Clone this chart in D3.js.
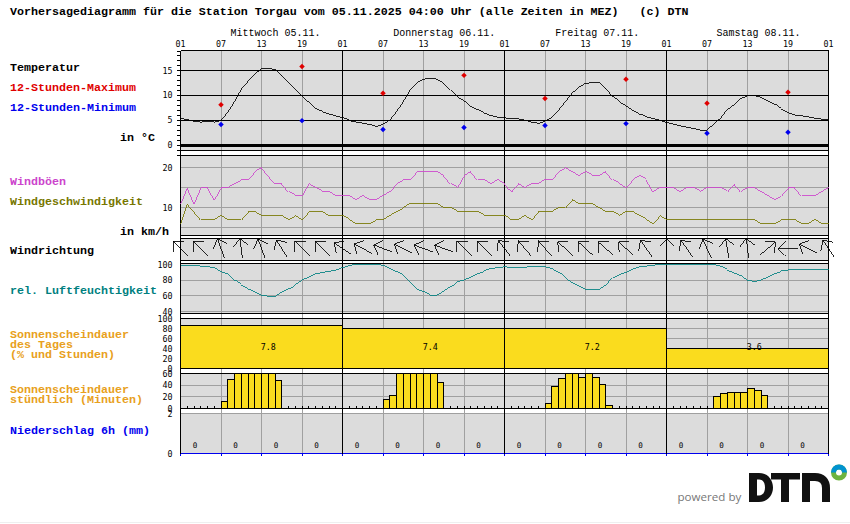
<!DOCTYPE html>
<html>
<head>
<meta charset="utf-8">
<title>Vorhersagediagramm Torgau</title>
<script src="https://cdn.jsdelivr.net/npm/d3@7"></script>
<style>
    html, body { margin: 0; padding: 0; background: #fff; }
    svg { display: block; }
    text { font-family: "Liberation Mono", monospace; }
    .big { font-size: 11.67px; font-weight: bold; }
    .mid { font-size: 10px; }
    .tiny { font-size: 8.33px; font-family: "DejaVu Sans Mono", monospace; }
    .zero { font-size: 7.6px; font-family: "DejaVu Sans Mono", monospace; }
    .crisp { shape-rendering: crispEdges; }
</style>
</head>
<body>
<script>
// hourly values from 01:00 Wed to 01:00 Sat+1 (97 points)
const temperature = [5.3,5.1,4.8,4.6,4.7,4.6,4.9,6.6,8.7,11.2,12.8,14.3,15.3,15.4,15.2,14,12.6,11.2,9.9,8.6,7.3,6.7,6.25,5.85,
    5.5,4.9,4.6,4.4,4.1,3.7,4.2,5,6.7,8.7,11,12.5,13.25,13.4,13.25,12.4,11,9.7,8.9,7.8,7.1,6.4,5.9,5.6,
    5.45,5.3,5.25,5,4.6,4.3,4.8,5.5,7,8.7,10.4,11.6,12.4,12.6,12.6,11.4,9.7,8.7,7.9,7,6.2,5.65,5.3,5,
    4.5,4.2,3.85,3.6,3.3,3,3,4.2,5.4,7.1,8.1,9.3,9.9,9.95,9.6,8.9,8.2,7.2,6.5,6.05,5.85,5.65,5.4,5.2,5.2];
const gusts = [11,15,11,15,15,12,15,15,16,17,17,19,20,18,16,16,14,13,13,16,15,14,14,13,
    13,13,12,13,12,12,13,14,16,17,17,19,19,19,19,18,16,15,18,19,17,17,16,17,
    16,14,16,15,16,16,17,17,19,20,19,18,19,18,18,19,17,16,15,17,18,17,14,15,
    15,15,14,15,15,14,15,15,15,14,16,14,15,15,14,13,12,13,15,15,13,13,13,14,15];
const windSpeed = [6,11,9,7,7,7,8,7,7,7,9,9,8,8,8,8,7,8,7,9,9,9,8,8,
    8,7,6,6,6,7,7,8,9,10,11,11,11,11,11,10,10,9,9,9,9,8,8,8,
    8,7,7,8,7,9,9,9,10,10,12,11,11,11,10,9,9,8,9,9,8,7,6,8,
    7,7,7,7,7,7,7,7,7,7,7,7,7,7,6,6,6,7,7,7,6,6,7,6,6];
const humidity = [99,99,99,98,97,96,91,88,80,74,69,65,61,59,59,65,69,74,80,84,88,90,91,93,
    96,99,100,100,100,100,99,95,91,86,78,69,65,61,61,66,72,78,80,84,88,92,95,96,
    97,96,96,96,98,98,97,95,90,83,77,73,68,68,68,74,83,87,90,94,97,98,99,100,
    100,100,100,100,100,100,100,100,98,93,89,86,80,78,80,84,88,92,93,94,94,94,94,94,94];

const maxHours = [6,18,30,42,54,66,78,90];
const tempMax = [8.1,15.8,10.4,14,9.35,13.2,8.4,10.6];
const tempMin = [4.1,4.9,3.1,3.5,3.9,4.3,2.35,2.55];

// arrows every 3 hours, compass bearing the arrow points to
const arrowHours = d3.range(0, 97, 3);
const arrowBearing = [315,315,340,353,340,328,315,315,303,298,291,296,290,290,315,315,322,
    319,319,312,312,311,312,325,358,325,336,351,353,50,270,296,326];

const dayLabels = ["Mittwoch 05.11.", "Donnerstag 06.11.", "Freitag 07.11.", "Samstag 08.11."];
const dayLabelHours = [7.4, 31.5, 55.5, 79.4];
const hourLabels = ["01","07","13","19"];
const sunPercent = [86, 80, 80, 40];
const sunHours = ["7.8", "7.4", "7.2", "3.6"];

// hourly sun minutes: first hour of each run, then minutes
const sunRunStart = [6, 30, 54, 79];
const sunRuns = [
    [12,50,60,60,60,60,60,60,48],
    [15,22,60,60,60,60,60,60,45],
    [9,38,51,60,60,53,60,53,41,5],
    [21,26,27,27,27,34,31,22]
];
const precip = d3.range(16).map(() => 0);

const leftLabels = [
    ["Temperatur", 10, 71, "#000"],
    ["12-Stunden-Maximum", 10, 91, "#e00000"],
    ["12-Stunden-Minimum", 10, 111, "#0000ee"],
    ["in °C", 120, 141, "#000"],
    ["Windböen", 10, 185, "#cc44cc"],
    ["Windgeschwindigkeit", 10, 205, "#777700"],
    ["in km/h", 120, 235, "#000"],
    ["Windrichtung", 10, 254, "#000"],
    ["rel. Luftfeuchtigkeit", 10, 294, "#007f7f"],
    ["Sonnenscheindauer", 10, 338, "#e8a020"],
    ["des Tages", 10, 348, "#e8a020"],
    ["(% und Stunden)", 10, 358, "#e8a020"],
    ["Sonnenscheindauer", 10, 393, "#e8a020"],
    ["stündlich (Minuten)", 10, 403, "#e8a020"],
    ["Niederschlag 6h (mm)", 10, 434, "#0000ee"]
];

const width = 850;
const height = 524;
const grey = "#a0a0a0";
const panelFill = "#dcdcdc";
const sunFill = "#fadc1e";

const svg = d3.select("body").append("svg").attr("width", width).attr("height", height);

const x = d3.scaleLinear().domain([0, 96]).range([180.5, 828.5]);
const yTemp = d3.scaleLinear().domain([0, 19]).range([145, 50.5]);
const yWind = d3.scaleLinear().domain([5, 20]).range([227.5, 167.5]);
const yHum = d3.scaleLinear().domain([40, 100]).range([311.5, 264.5]);
const ySun = d3.scaleLinear().domain([0, 100]).range([368.5, 318.5]);
const yMin = d3.scaleLinear().domain([0, 60]).range([408.5, 373.5]);
const yPrec = d3.scaleLinear().domain([0, 2]).range([453.5, 413.5]);

const g = svg.append("g");

// panel backgrounds
g.append("rect").attr("x", x(0)).attr("y", 50.5).attr("width", x(96) - x(0)).attr("height", 403)
    .attr("fill", panelFill).attr("class", "crisp");
[[150.5, 155.5], [235.5, 238.5], [260.5, 263.5], [313.5, 318.5], [368.5, 373.5], [408.5, 413.5]].forEach(b => {
    g.append("rect").attr("x", x(0)).attr("y", b[0]).attr("width", x(96) - x(0)).attr("height", b[1] - b[0])
        .attr("fill", "#fff").attr("class", "crisp");
});

function hLine(y, color, w) {
    g.append("line").attr("class", "crisp")
        .attr("x1", x(0)).attr("x2", x(96)).attr("y1", y).attr("y2", y)
        .attr("stroke", color).attr("stroke-width", w || 1);
}

// grey hour lines
d3.range(0, 97, 6).filter(h => h % 24 !== 0).forEach(h => {
    g.append("line").attr("class", "crisp")
        .attr("x1", x(h)).attr("x2", x(h)).attr("y1", 50.5).attr("y2", 453.5)
        .attr("stroke", grey).attr("stroke-width", 1);
});

[15, 10, 5].forEach(v => hLine(yTemp(v), "#000"));
[20, 15, 10, 5].forEach(v => hLine(yWind(v), grey));
[80, 60, 40].forEach(v => hLine(yHum(v), grey));
[80, 60, 40, 20].forEach(v => hLine(ySun(v), grey));
[40, 20].forEach(v => hLine(yMin(v), grey));
hLine(yPrec(2), grey);

// daily sunshine bars
g.selectAll(".sun-day").data(sunPercent).enter().append("rect")
    .attr("class", "sun-day crisp")
    .attr("x", (d, i) => x(i * 24))
    .attr("width", x(24) - x(0))
    .attr("y", d => ySun(d))
    .attr("height", d => ySun(0) - ySun(d))
    .attr("fill", sunFill).attr("stroke", "#000");

g.selectAll(".sun-txt").data(sunHours).enter().append("text")
    .attr("class", "tiny")
    .attr("x", (d, i) => x(i * 24 + 13))
    .attr("y", 350)
    .attr("text-anchor", "middle")
    .text(d => d);

// hourly sunshine bars
sunRuns.forEach((run, r) => {
    g.selectAll(".sun-h" + r).data(run).enter().append("rect")
        .attr("class", "sun-h" + r + " crisp")
        .attr("x", (d, i) => x(sunRunStart[r] + i))
        .attr("width", x(1) - x(0))
        .attr("y", d => yMin(d))
        .attr("height", d => yMin(0) - yMin(d))
        .attr("fill", sunFill).attr("stroke", "#000");
});

// hour ticks on the sunshine baseline
g.selectAll(".h-tick").data(d3.range(0, 97)).enter().append("line")
    .attr("class", "h-tick crisp")
    .attr("x1", d => x(d)).attr("x2", d => x(d))
    .attr("y1", yMin(0) - 3).attr("y2", yMin(0))
    .attr("stroke", "#000");

// black horizontal frame lines
[50.5, 150.5, 155.5, 235.5, 238.5, 260.5, 263.5, 313.5, 318.5, 368.5, 373.5, 408.5].forEach(y => hLine(y, "#000"));
hLine(yTemp(0), "#000", 3);
hLine(yPrec(0), "#0000ee");

// blue ticks on the precipitation baseline
g.selectAll(".p-tick").data(d3.range(0, 97, 6)).enter().append("line")
    .attr("class", "p-tick crisp")
    .attr("x1", d => x(d)).attr("x2", d => x(d))
    .attr("y1", yPrec(0) - 1).attr("y2", yPrec(0) + 2)
    .attr("stroke", "#0000ee");

// black day lines
d3.range(0, 97, 24).forEach(h => {
    g.append("line").attr("class", "crisp")
        .attr("x1", x(h)).attr("x2", x(h)).attr("y1", 50.5).attr("y2", 453.5)
        .attr("stroke", "#000");
});

// lines
const line = yScale => d3.line().x((d, i) => x(i)).y(d => yScale(d));
const curve = (data, yScale, color) => g.append("path").attr("class", "crisp")
    .attr("d", line(yScale)(data)).attr("fill", "none").attr("stroke", color).attr("stroke-width", 0.85);

curve(gusts, yWind, "#cc44cc");
curve(windSpeed, yWind, "#777700");
curve(humidity, yHum, "#008080");
curve(temperature, yTemp, "#000");

// 12h markers, square turned on its corner
const diamond = d3.symbol().type(d3.symbolSquare).size(15);
g.selectAll(".tmax").data(tempMax).enter().append("path")
    .attr("class", "tmax")
    .attr("d", diamond)
    .attr("transform", (d, i) => `translate(${x(maxHours[i])},${yTemp(d)}) rotate(45)`)
    .attr("fill", "#e00000");
g.selectAll(".tmin").data(tempMin).enter().append("path")
    .attr("class", "tmin")
    .attr("d", diamond)
    .attr("transform", (d, i) => `translate(${x(maxHours[i])},${yTemp(d)}) rotate(45)`)
    .attr("fill", "#0000ee");

// wind direction arrows
const arrows = g.selectAll(".arrow").data(arrowBearing).enter().append("g")
    .attr("class", "arrow crisp")
    .attr("transform", (d, i) => `translate(${x(arrowHours[i])},248.5) rotate(${d})`)
    .attr("stroke", "#000").attr("fill", "none");
arrows.append("path").attr("stroke-width", 0.85).attr("d", "M0,10V-10L-7.5,-2.5M0,-10L7.5,-2.5");

// precipitation zeros
g.selectAll(".prec").data(precip).enter().append("text")
    .attr("class", "zero")
    .attr("x", (d, i) => x(i * 6 + 2.15))
    .attr("y", 447.5)
    .attr("text-anchor", "middle")
    .text(d => d);

// y axes
function axis(scale, values, size) {
    const ax = d3.axisLeft(scale).tickValues(values).tickFormat(d3.format("d"))
        .tickSize(size).tickPadding(size ? 3 : 8);
    const a = svg.append("g").attr("transform", "translate(180.5,0)").call(ax);
    a.select(".domain").remove();
    a.selectAll("line").attr("class", "crisp").attr("stroke", "#000");
    a.selectAll("text").attr("class", "tiny").attr("fill", "#000").attr("font-family", null).attr("font-size", null);
    return a;
}

// temperature axis has a tick per degree, labels only on the fives
const tempAxis = d3.axisLeft(yTemp).tickValues(d3.range(-2, 20)).tickSize(4)
    .tickFormat(d => d >= 0 && d % 5 === 0 ? d : "").tickPadding(4);
const ta = svg.append("g").attr("transform", "translate(180.5,0)").call(tempAxis);
ta.select(".domain").remove();
ta.selectAll("line").attr("class", "crisp").attr("stroke", "#000");
ta.selectAll("text").attr("class", "tiny").attr("fill", "#000").attr("font-family", null).attr("font-size", null);

axis(yWind, [20, 10], 0);
axis(yHum, [100, 80, 60, 40], 0);
axis(ySun, [100, 80, 60, 40, 20, 0], 0);
axis(yMin, [60, 40, 20, 0], 0);
axis(yPrec, [2, 0], 0);

// texts
svg.append("text").attr("class", "big").attr("x", 10).attr("y", 15)
    .attr("xml:space", "preserve").style("white-space", "pre")
    .text("Vorhersagediagramm für die Station Torgau vom 05.11.2025 04:00 Uhr (alle Zeiten in MEZ)   (c) DTN");

svg.selectAll(".left").data(leftLabels).enter().append("text")
    .attr("class", "left big")
    .attr("x", d => d[1]).attr("y", d => d[2])
    .attr("fill", d => d[3])
    .text(d => d[0]);

svg.selectAll(".day").data(dayLabels).enter().append("text")
    .attr("class", "day mid")
    .attr("x", (d, i) => x(dayLabelHours[i]))
    .attr("y", 36)
    .text(d => d);

svg.selectAll(".hour").data(d3.range(0, 97, 6)).enter().append("text")
    .attr("class", "hour tiny")
    .attr("x", d => x(d))
    .attr("y", 47)
    .attr("text-anchor", "middle")
    .text((d, i) => hourLabels[i % 4]);

// powered by logo
const logo = svg.append("g");
logo.append("text").attr("x", 677.5).attr("y", 501).attr("fill", "#777")
    .style("font-family", "'Open Sans'").style("font-size", "11.6px").text("powered by");
logo.append("path").attr("fill-rule", "evenodd").attr("fill", "#111")
    .attr("d", "M749,473H759C768,473 773,480 773,487.5C773,495 768,502 759,502H749ZM757,479.5V495.5H759C763,495.5 765,492 765,487.5C765,483 763,479.5 759,479.5Z");
logo.append("path").attr("fill", "#111").attr("d", "M771,473H800V479.5H789V502H781V479.5H771Z");
logo.append("path").attr("fill", "none").attr("stroke", "#111").attr("stroke-width", 8)
    .attr("d", "M806,502V477H815C822,477 826,481 826,488V502");
logo.append("circle").attr("cx", 839).attr("cy", 472.5).attr("r", 5.5).attr("fill", "none")
    .attr("stroke", "#6db33f").attr("stroke-width", 5);
logo.append("path").attr("d", "M831,472.5A8,8 0 0 1 847,472.5H842A3,3 0 0 0 836,472.5Z").attr("fill", "#0093d0");

svg.append("line").attr("class", "crisp").attr("x1", 0).attr("x2", width).attr("y1", 522.5).attr("y2", 522.5)
    .attr("stroke", "#efefef");
</script>
</body>
</html>
